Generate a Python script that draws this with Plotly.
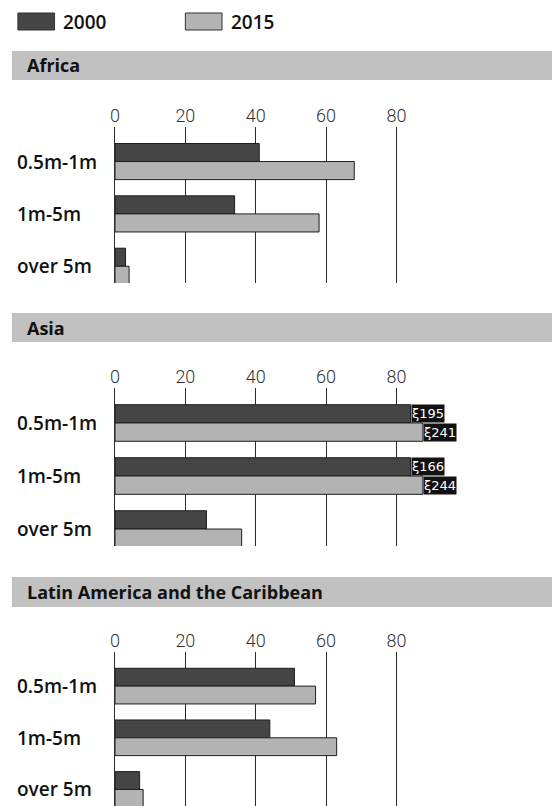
import plotly.graph_objects as go

# ---------------- data ----------------
categories = ["0.5m-1m", "1m-5m", "over 5m"]
years = ["2000", "2015"]
regions = ["Africa", "Asia", "Latin America and the Caribbean"]
africa_2000 = [41, 34, 3]
africa_2015 = [68, 58, 4]
asia_2000 = [195, 166, 26]
asia_2015 = [241, 244, 36]
latam_2000 = [51, 44, 7]
latam_2015 = [57, 63, 8]
tick_values = [0, 20, 40, 60, 80]

# ---------------- style ----------------
W, H = 552, 806


def px_x(p):
    return p / W


def px_y(p):
    return 1 - p / H


COL = {"2000": "#454545", "2015": "#b3b3b3"}
BREAK = {"2000": 84, "2015": 87.5}   # where over-long bars are cut
BARGAP = 0.31
YRANGE = [2.32, -0.66]
XRANGE = [0, 124.2]
FONT = "Open Sans"

panels = [
    dict(name=regions[0], vals={"2000": africa_2000, "2015": africa_2015},
         header=(51, 80), plot=(127, 283)),
    dict(name=regions[1], vals={"2000": asia_2000, "2015": asia_2015},
         header=(313, 342), plot=(388, 546)),
    dict(name=regions[2], vals={"2000": latam_2000, "2015": latam_2015},
         header=(577, 607), plot=(652, 806)),
]

fig = go.Figure()
layout = dict(
    width=W, height=H,
    margin=dict(l=0, r=0, t=0, b=0),
    paper_bgcolor="white", plot_bgcolor="white",
    barmode="group", bargap=BARGAP, bargroupgap=0,
    showlegend=False,
)
shapes = []
annotations = []

for i, p in enumerate(panels):
    sfx = "" if i == 0 else str(i + 1)
    xa, ya = "x" + sfx, "y" + sfx
    for yr in years:
        vals = p["vals"][yr]
        shown = [min(v, BREAK[yr]) for v in vals]
        fig.add_trace(go.Bar(
            x=shown, y=categories, orientation="h", name=yr,
            xaxis=xa, yaxis=ya,
            marker=dict(color=COL[yr], line=dict(color="#1e1e1e", width=1)),
            hoverinfo="skip",
        ))
        off = (-1 if yr == "2000" else 1) * (1 - BARGAP) / 4
        for k, v in enumerate(vals):
            if v > BREAK[yr]:
                annotations.append(dict(
                    x=BREAK[yr], y=k + off, xref=xa, yref=ya,
                    text="ξ" + str(v), showarrow=False,
                    xanchor="left", yanchor="middle",
                    bgcolor="#111111", borderpad=0, height=17,
                    font=dict(family="DejaVu Sans", size=13, color="white"),
                ))
    top, bot = p["plot"]
    layout["xaxis" + sfx] = dict(
        domain=[px_x(111), 1], range=XRANGE, anchor=ya, side="top",
        tickvals=tick_values, ticks="",
        tickfont=dict(family="Roboto", size=18, color="#333333", weight=300),
        showgrid=True, gridcolor="#2b2b2b", gridwidth=1,
        zeroline=True, zerolinecolor="#2b2b2b", zerolinewidth=1,
        showline=False, fixedrange=True,
    )
    layout["yaxis" + sfx] = dict(
        domain=[px_y(bot), px_y(top)], range=YRANGE, anchor=xa,
        type="category", categoryorder="array", categoryarray=categories,
        showticklabels=False, showgrid=False, zeroline=False, showline=False,
        fixedrange=True,
    )
    # category labels (left aligned)
    for k, c in enumerate(categories):
        annotations.append(dict(
            x=px_x(10), xref="paper", y=k, yref=ya, text=c,
            showarrow=False, xanchor="left", yanchor="middle",
            font=dict(family=FONT, size=19, color="#111111", weight=600),
        ))
    # header band
    h0, h1 = p["header"]
    shapes.append(dict(type="rect", xref="paper", yref="paper",
                       x0=px_x(7), x1=1, y0=px_y(h1), y1=px_y(h0),
                       fillcolor="#c1c1c1", line=dict(width=0), layer="below"))
    annotations.append(dict(
        x=px_x(20), xref="paper", y=px_y((h0 + h1) / 2), yref="paper",
        text=p["name"], showarrow=False, xanchor="left", yanchor="middle",
        font=dict(family=FONT, size=18, color="#111111", weight=700),
    ))

# legend (drawn manually to match wide swatches)
legend_pos = {"2000": 13, "2015": 182}
for yr in years:
    x0 = legend_pos[yr]
    shapes.append(dict(type="rect", xref="paper", yref="paper",
                       x0=px_x(x0), x1=px_x(x0 + 37), y0=px_y(30), y1=px_y(13),
                       fillcolor=COL[yr], line=dict(color="#333333", width=1)))
    annotations.append(dict(
        x=px_x(x0 + 44), xref="paper", y=px_y(22), yref="paper",
        text=yr, showarrow=False, xanchor="left", yanchor="middle",
        font=dict(family=FONT, size=19, color="#111111", weight=600),
    ))

layout["shapes"] = shapes
layout["annotations"] = annotations
fig.update_layout(**layout)
fig.write_html(
    "out.html",
    config={"displayModeBar": False, "staticPlot": True},
    post_script="document.body.style.margin='0';"
                "document.body.style.overflow='hidden';",
)
